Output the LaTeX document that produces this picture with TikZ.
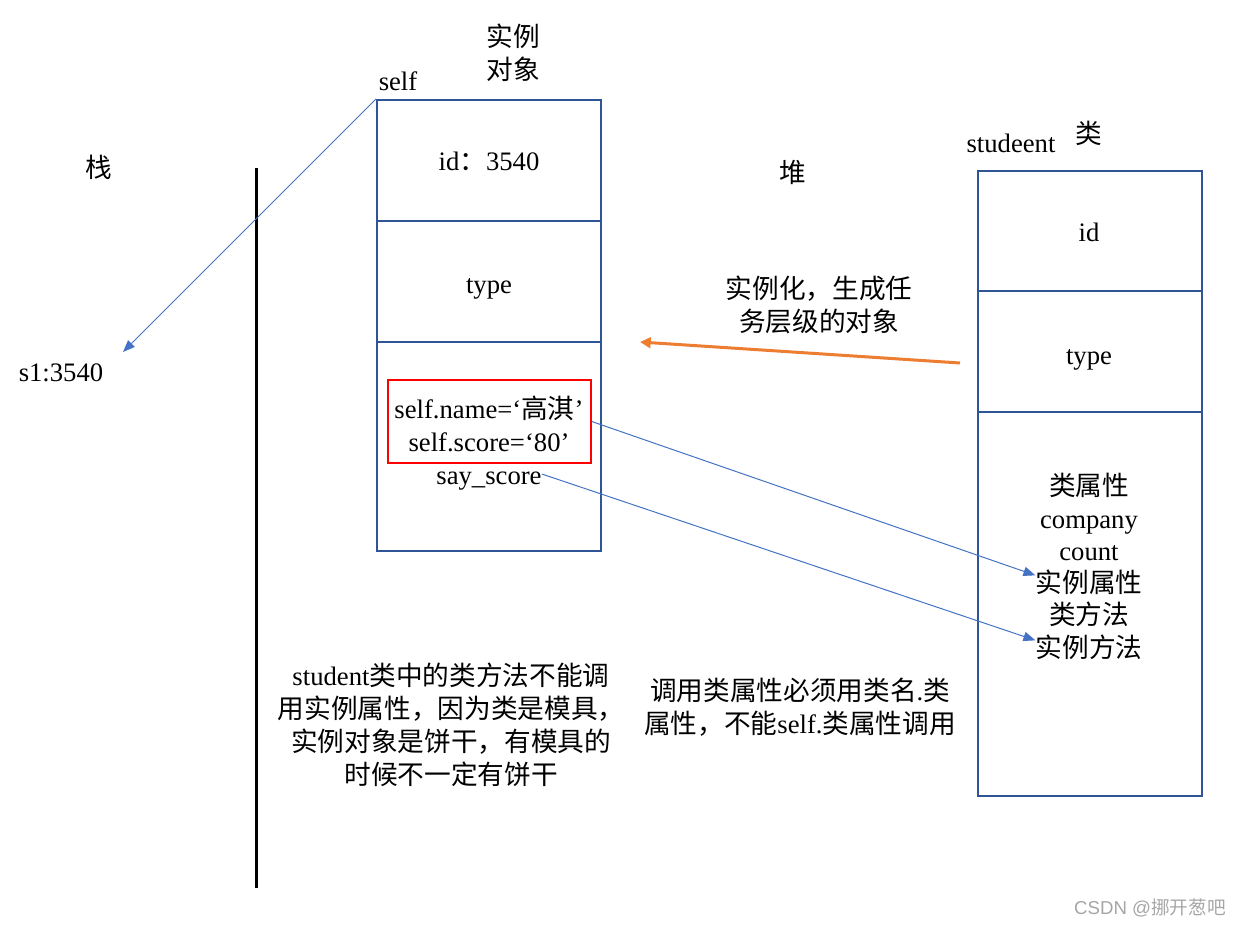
\documentclass[tikz,border=0pt]{standalone}
\usepackage{fontspec}
\setmainfont{Liberation Serif}
\newfontfamily\cjkfont{Noto Sans CJK SC}
\newfontfamily\wmfont{Liberation Sans}
\newcommand{\zh}[1]{{\cjkfont #1}}
\usetikzlibrary{arrows.meta}
\definecolor{boxblue}{HTML}{2F5597}
\definecolor{arrblue}{HTML}{4472C4}
\definecolor{arrorange}{HTML}{ED7D31}
\definecolor{wmgray}{HTML}{A6A6A6}
\begin{document}
\begin{tikzpicture}[x=0.75pt,y=-0.75pt,
  txt/.style={font=\fontsize{20}{24.5}\selectfont, inner sep=0pt, align=center},
  one/.style={txt, text height=17pt, text depth=2pt},
  cell/.style={txt, draw=boxblue, line width=1.5pt, minimum width=168pt},
  redbox/.style={txt, draw=red, line width=1.1pt, minimum width=152.25pt, minimum height=62.25pt},
  bluearrow/.style={draw=arrblue, line width=0.75pt, -{Triangle[length=9pt,width=7pt]}},
  orangearrow/.style={draw=arrorange, line width=2.25pt, -{Triangle[length=8pt,width=8pt]}}]
\useasboundingbox (0,0) rectangle (1241,927);

% left object box
\node[cell, minimum height=90.75pt] (l1) at (489,160.5) {};
\node[cell, minimum height=90.75pt] (l2) at (489,281.5) {};
\node[cell, minimum height=156.75pt] (l3) at (489,446.5) {};
\node[one] (t1) at (489,161) {id\zh{：}3540};
\node[one] (t2) at (489,283) {type};
\node[redbox] (red) at (489.5,421.5) {};
\node[one] (nm) at (489,408) {self.name=‘\zh{高淇}’};
\node[one] (sc) at (489,441) {self.score=‘80’};
\node[one] (say) at (489,474) {say\_score};

% right class box
\node[cell, minimum height=90pt] (r1) at (1089.5,231) {};
\node[cell, minimum height=90.75pt] (r2) at (1089.5,351.5) {};
\node[cell, minimum height=288pt] (r3) at (1089.5,604) {};
\node[one] (u1) at (1089,232) {id};
\node[one] (u2) at (1089,354) {type};
\node[one] (c1) at (1089,485) {\zh{类属性}};
\node[one] (c2) at (1089,518) {company};
\node[one] (c3) at (1089,550) {count};
\node[one] (c4) at (1089,582) {\zh{实例属性}};
\node[one] (c5) at (1089,614) {\zh{类方法}};
\node[one] (c6) at (1089,647) {\zh{实例方法}};

% labels
\node[txt] (inst) at (513,53) {\zh{实例}\\\zh{对象}};
\node[one] (self) at (398,81) {self};
\node[one] (stack) at (99,168) {\zh{栈}};
\node[one] (heap) at (793,173) {\zh{堆}};
\node[one] (s1) at (61,371) {s1:3540};
\node[one] (stud) at (1011,143) {studeent};
\node[one] (lei) at (1089,134) {\zh{类}};
\node[txt] (instz) at (819,305) {\zh{实例化，生成任}\\\zh{务层级的对象}};
\node[txt, font=\fontsize{20}{24.75}\selectfont] (note1) at (451,725) {student\zh{类中的类方法不能调}\\\zh{用实例属性，因为类是模具，}\\\zh{实例对象是饼干，有模具的}\\\zh{时候不一定有饼干}};
\node[txt] (note2) at (800,707) {\zh{调用类属性必须用类名}.\zh{类}\\\zh{属性，不能}self.\zh{类属性调用}};
\node[inner sep=0pt, text=wmgray, font=\fontsize{14}{16}\selectfont] (wm) at (1150,908) {\wmfont CSDN @\zh{挪开葱吧}};

% stack / heap divider
\coordinate (vtop) at (256,168);
\coordinate (vbot) at (256,888);
\draw[line width=2.25pt] (vtop) -- (vbot);

% connectors
\coordinate (s1tip) at (123,352);
\draw[bluearrow] (l1.north west) -- (s1tip);
\coordinate (ostart) at (960,363);
\coordinate (oend) at (640,342);
\draw[orangearrow] (ostart) -- (oend);
\draw[bluearrow] (red.east) -- ([yshift=5pt]c4.west);
\draw[bluearrow] (say.east) -- ([yshift=5pt]c6.west);
\end{tikzpicture}
\end{document}
